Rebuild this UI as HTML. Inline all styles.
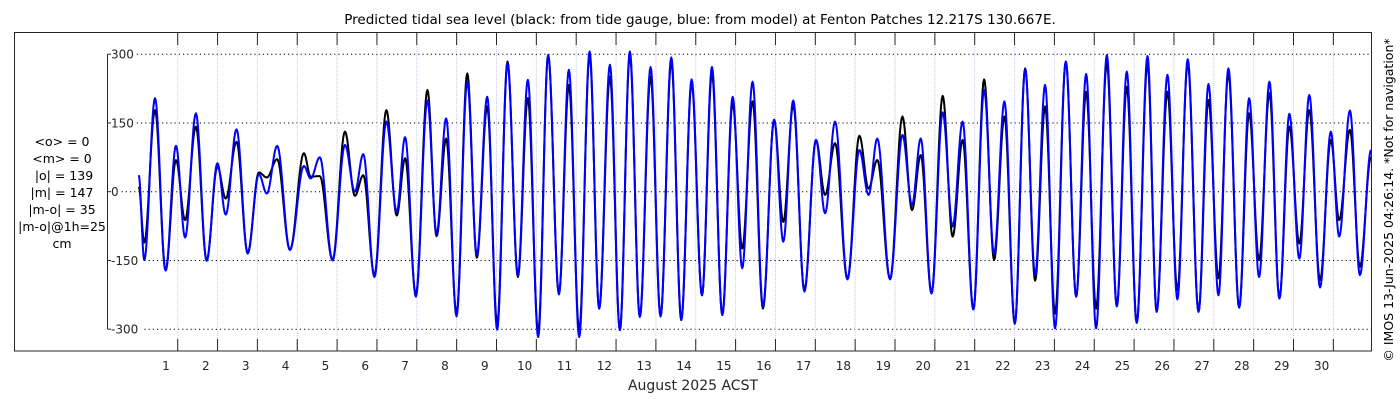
<!DOCTYPE html>
<html><head><meta charset="utf-8"><style>
html,body{margin:0;padding:0;background:#fff;}
svg{display:block;font-family:"DejaVu Sans","Liberation Sans",sans-serif;}
</style></head><body>
<svg id="chart" width="1400" height="400" viewBox="0 0 1400 400">
<rect x="0" y="0" width="1400" height="400" fill="#fff"/>
<text x="700" y="24" text-anchor="middle" font-size="13.5" fill="#000">Predicted tidal sea level (black: from tide gauge, blue: from model) at Fenton Patches 12.217S 130.667E.</text>
<g id="grid"></g>
<defs><clipPath id="clip"><rect x="108" y="33" width="1263" height="317"/></clipPath></defs>
<g id="series" clip-path="url(#clip)"></g>
<rect x="14.5" y="32.5" width="1357" height="318.5" fill="none" stroke="#262626" stroke-width="1"/>
<g id="axes"></g>
<g font-size="12.5" text-anchor="middle" fill="#000">
<text x="62" y="146">&lt;o&gt; = 0</text>
<text x="62" y="163">&lt;m&gt; = 0</text>
<text x="64" y="180">|o| = 139</text>
<text x="62" y="197">|m| = 147</text>
<text x="62" y="214">|m-o| = 35</text>
<text x="62" y="231">|m-o|@1h=25</text>
<text x="62" y="248">cm</text>
</g>
<text x="693" y="390" text-anchor="middle" font-size="14" fill="#262626">August 2025 ACST</text>
<text transform="translate(1393,200) rotate(-90)" text-anchor="middle" font-size="12.5" fill="#000">© IMOS 13-Jun-2025 04:26:14. *Not for navigation*</text>
</svg>
<script>
const times = [0.315,0.455,0.724,0.99,1.25,1.48,1.75,2.02,2.29,2.50,2.77,3.05,3.33,3.53,3.79,4.11,4.46,4.63,4.86,5.18,
5.49,5.74,5.95,6.23,6.53,6.79,7.00,7.27,7.56,7.79,8.03,8.29,8.56,8.80,9.06,9.31,9.57,9.83,10.08,10.34,10.59,10.86,
11.11,11.37,11.63,11.87,12.14,12.39,12.64,12.89,13.16,13.41,13.68,13.93,14.19,14.45,14.70,14.96,15.22,15.46,15.72,15.98,16.26,16.49,16.74,
17.02,17.31,17.54,17.79,18.10,18.40,18.63,18.85,19.17,19.48,19.72,19.94,20.21,20.49,20.74,20.99,21.26,21.53,21.78,22.04,22.30,22.56,
22.81,23.06,23.31,23.58,23.84,24.09,24.34,24.61,24.86,25.11,25.36,25.63,25.86,26.13,26.38,26.64,26.91,27.16,27.41,27.66,27.93,28.18,28.43,
28.69,28.94,29.19,29.44,29.69,29.96,30.23,30.44,30.71,30.96,31.24];
const modelLevels = [36,-149,204,-172,100,-100,171,-151,62,-50,136,-135,38,-4,100,-127,56,29,75,-150,
102,0,82,-186,153,-44,119,-229,199,-92,160,-272,240,-138,207,-301,280,-182,244,-317,298,-224,
266,-317,306,-255,277,-302,306,-273,272,-272,293,-280,245,-226,272,-269,207,-167,240,-250,157,-109,199,
-218,113,-47,153,-191,91,-7,116,-191,124,-29,116,-222,173,-76,153,-257,222,-136,197,-288,267,
-182,233,-298,284,-229,257,-298,298,-250,262,-286,296,-262,255,-235,289,-262,235,-226,269,-253,204,-186,
240,-233,170,-146,211,-209,131,-98,177,-182,91];
const gaugeLevels = [11,-111,178,-172,69,-62,142,-149,55,-15,109,-133,42,31,71,-127,84,33,34,-149,
131,-9,36,-182,178,-52,73,-224,222,-97,116,-266,258,-144,186,-288,284,-186,204,-306,298,-222,
233,-302,298,-255,251,-302,298,-273,251,-272,284,-280,237,-226,258,-269,193,-124,197,-255,157,-66,189,
-215,113,-7,106,-191,122,7,69,-191,164,-40,80,-222,209,-98,113,-257,245,-149,164,-288,269,
-194,186,-266,284,-229,218,-255,280,-250,229,-286,280,-262,218,-215,280,-262,200,-189,258,-253,171,-149,
215,-233,142,-113,178,-193,113,-62,135,-164,76];
const yTicks = [300,150,0,-150,-300];
const dayLabels = [1,2,3,4,5,6,7,8,9,10,11,12,13,14,15,16,17,18,19,20,21,22,23,24,25,26,27,28,29,30];

const NS = 'http://www.w3.org/2000/svg';
function xScale(t){ return 166 + (t - 1) * 39.85; }
function yScale(v){ return 191.7 - v * 0.4583; }
function mk(tag, attrs, parent){
  const el = document.createElementNS(NS, tag);
  for (const k in attrs) el.setAttribute(k, attrs[k]);
  parent.appendChild(el);
  return el;
}
const grid = document.getElementById('grid');
const axes = document.getElementById('axes');
const series = document.getElementById('series');

// horizontal grid + y labels
yTicks.forEach(v => {
  const y = yScale(v);
  const lbl = String(v);
  const lx = 112 + lbl.length * 7.6 + 2;
  const g = mk('line', {x1: lx, y1: y, x2: 1371, y2: y, stroke: '#000', 'stroke-width': 1, 'stroke-dasharray': '1.2,3'}, grid);
  
  
  const tk = mk('line', {x1: 107.5, y1: y, x2: 111, y2: y, stroke: '#262626', 'stroke-width': 1}, axes);
  
  
  const t = mk('text', {x: 111, y: y + 4.5, 'font-size': 12, fill: '#262626'}, axes);
  t.textContent = lbl;
  
  
});
const yAxis = mk('line', {x1: 107.5, y1: yScale(300), x2: 107.5, y2: yScale(-300), stroke: '#262626', 'stroke-width': 1}, axes);



// day grid, ticks, labels
dayLabels.forEach(d => {
  const xt = xScale(d) + 11.7;
  const vg = mk('line', {x1: xt, y1: 33, x2: xt, y2: 351, stroke: '#c8c8e8', 'stroke-width': 1, 'stroke-dasharray': '1,1'}, grid);
  
  
  const t1 = mk('line', {x1: xt, y1: 33, x2: xt, y2: 45, stroke: '#262626', 'stroke-width': 1}, axes);
  
  
  const t2 = mk('line', {x1: xt, y1: 339, x2: xt, y2: 351, stroke: '#262626', 'stroke-width': 1}, axes);
  
  
  const lb = mk('text', {x: xScale(d), y: 370, 'font-size': 12, 'text-anchor': 'middle', fill: '#262626'}, axes);
  lb.textContent = String(d);
  
  
});

function buildPath(vals){
  let d = '';
  for (let i = 0; i < times.length - 1; i++) {
    const t0 = times[i], t1 = times[i+1], v0 = vals[i], v1 = vals[i+1];
    const n = 14;
    for (let j = (i === 0 ? 0 : 1); j <= n; j++) {
      const f = j / n;
      const w = (1 - Math.cos(Math.PI * f)) / 2;
      const x = xScale(t0 + (t1 - t0) * f);
      const y = yScale(v0 + (v1 - v0) * w);
      d += (d ? 'L' : 'M') + x.toFixed(2) + ',' + y.toFixed(2);
    }
  }
  return d;
}
const gaugeLine = mk('path', {d: buildPath(gaugeLevels), fill: 'none', stroke: '#000', 'stroke-width': 2, 'stroke-linejoin': 'round'}, series);


const modelLine = mk('path', {d: buildPath(modelLevels), fill: 'none', stroke: '#0000ff', 'stroke-width': 2, 'stroke-linejoin': 'round'}, series);


</script>
</body></html>
